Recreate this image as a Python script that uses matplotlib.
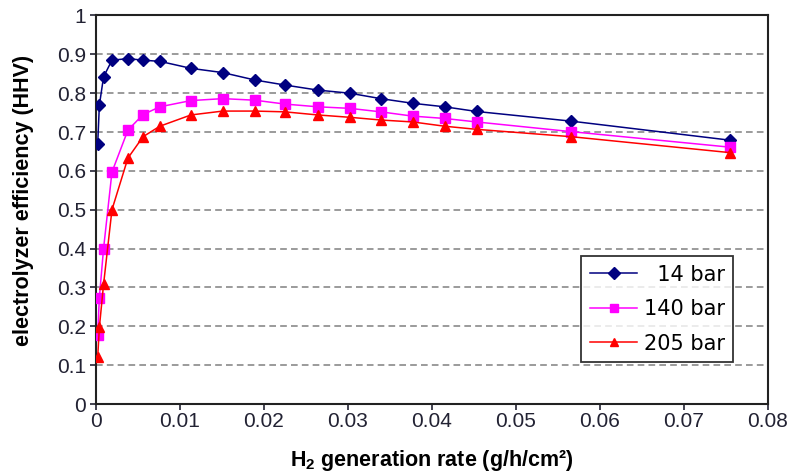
import matplotlib
matplotlib.use("Agg")
import matplotlib.pyplot as plt

rate = [0.0002, 0.0004, 0.0009, 0.0019, 0.0038, 0.0056, 0.0076, 0.0113, 0.0151,
        0.0189, 0.0225, 0.0264, 0.0302, 0.0339, 0.0377, 0.0415, 0.0453, 0.0566, 0.0755]
eff_14 = [0.668, 0.769, 0.842, 0.885, 0.889, 0.885, 0.882, 0.864, 0.853,
          0.834, 0.821, 0.808, 0.800, 0.786, 0.774, 0.765, 0.753, 0.728, 0.679]
eff_140 = [0.177, 0.274, 0.400, 0.597, 0.705, 0.745, 0.765, 0.781, 0.786,
           0.782, 0.772, 0.765, 0.761, 0.752, 0.741, 0.735, 0.726, 0.701, 0.661]
eff_205 = [0.120, 0.197, 0.308, 0.500, 0.633, 0.688, 0.715, 0.744, 0.754,
           0.754, 0.752, 0.744, 0.738, 0.731, 0.726, 0.715, 0.707, 0.688, 0.647]
labels = ["14 bar", "140 bar", "205 bar"]
xticks = [0, 0.01, 0.02, 0.03, 0.04, 0.05, 0.06, 0.07, 0.08]
xticklabels = ["0", "0.01", "0.02", "0.03", "0.04", "0.05", "0.06", "0.07", "0.08"]
yticks = [0, 0.1, 0.2, 0.3, 0.4, 0.5, 0.6, 0.7, 0.8, 0.9, 1]
yticklabels = ["0", "0.1", "0.2", "0.3", "0.4", "0.5", "0.6", "0.7", "0.8", "0.9", "1"]

plt.rcParams['font.family'] = ['Liberation Sans', 'DejaVu Sans']

fig = plt.figure(figsize=(7.97, 4.73), dpi=100)
ax = fig.add_axes([96/797, 1-404/473, (768-96)/797, (404-15.5)/473])

l1, = ax.plot(rate, eff_14, color='#000080', marker='D', markersize=6, lw=1.1, zorder=3)
l2, = ax.plot(rate, eff_140, color='#FF00FF', marker='s', markersize=7, lw=1.1, zorder=3)
l3, = ax.plot(rate, eff_205, color='#FF0000', marker='^', markersize=7, lw=1.1, zorder=3)

ax.set_xlim(0, 0.08)
ax.set_ylim(0, 1)
ax.set_xticks(xticks)
ax.set_xticklabels(xticklabels)
ax.set_yticks(yticks)
ax.set_yticklabels(yticklabels)
ax.tick_params(axis='both', direction='out', length=4, width=1.2, labelsize=15, colors='#222233', pad=2)
ax.tick_params(axis='y', pad=3)
for s in ax.spines.values():
    s.set_linewidth(1.5)
    s.set_color('#222222')
ax.yaxis.grid(True, linestyle=(0, (4, 2.5)), color='#8a8a8a', lw=1.2)
ax.set_axisbelow(True)

ax.set_xlabel("H$_\\mathregular{2}$ generation rate (g/h/cm²)", fontsize=15.5, fontweight='bold')
ax.set_ylabel("electrolyzer efficiency (HHV)", fontsize=15.5, fontweight='bold')
ax.xaxis.set_label_coords(0.5, -0.112)
ax.yaxis.set_label_coords(-0.092, 0.524)

# right-align legend texts by padding with figure spaces
maxlen = max(len(s) for s in labels)
leg_labels = ["\u2007" * (maxlen - len(s)) + s for s in labels]
leg = ax.legend([l1, l2, l3], leg_labels, loc='lower right', bbox_to_anchor=(0.948, 0.108),
                borderaxespad=0, frameon=True, fancybox=False,
                edgecolor='black', handlelength=2.3, labelspacing=0.7,
                borderpad=0.4, handletextpad=0.3,
                prop={'family': ['DejaVu Sans'], 'size': 15})
leg.get_frame().set_linewidth(1.3)
for h in leg.legend_handles:
    h.set_markersize(6)

fig.savefig("out.png", dpi=100)
